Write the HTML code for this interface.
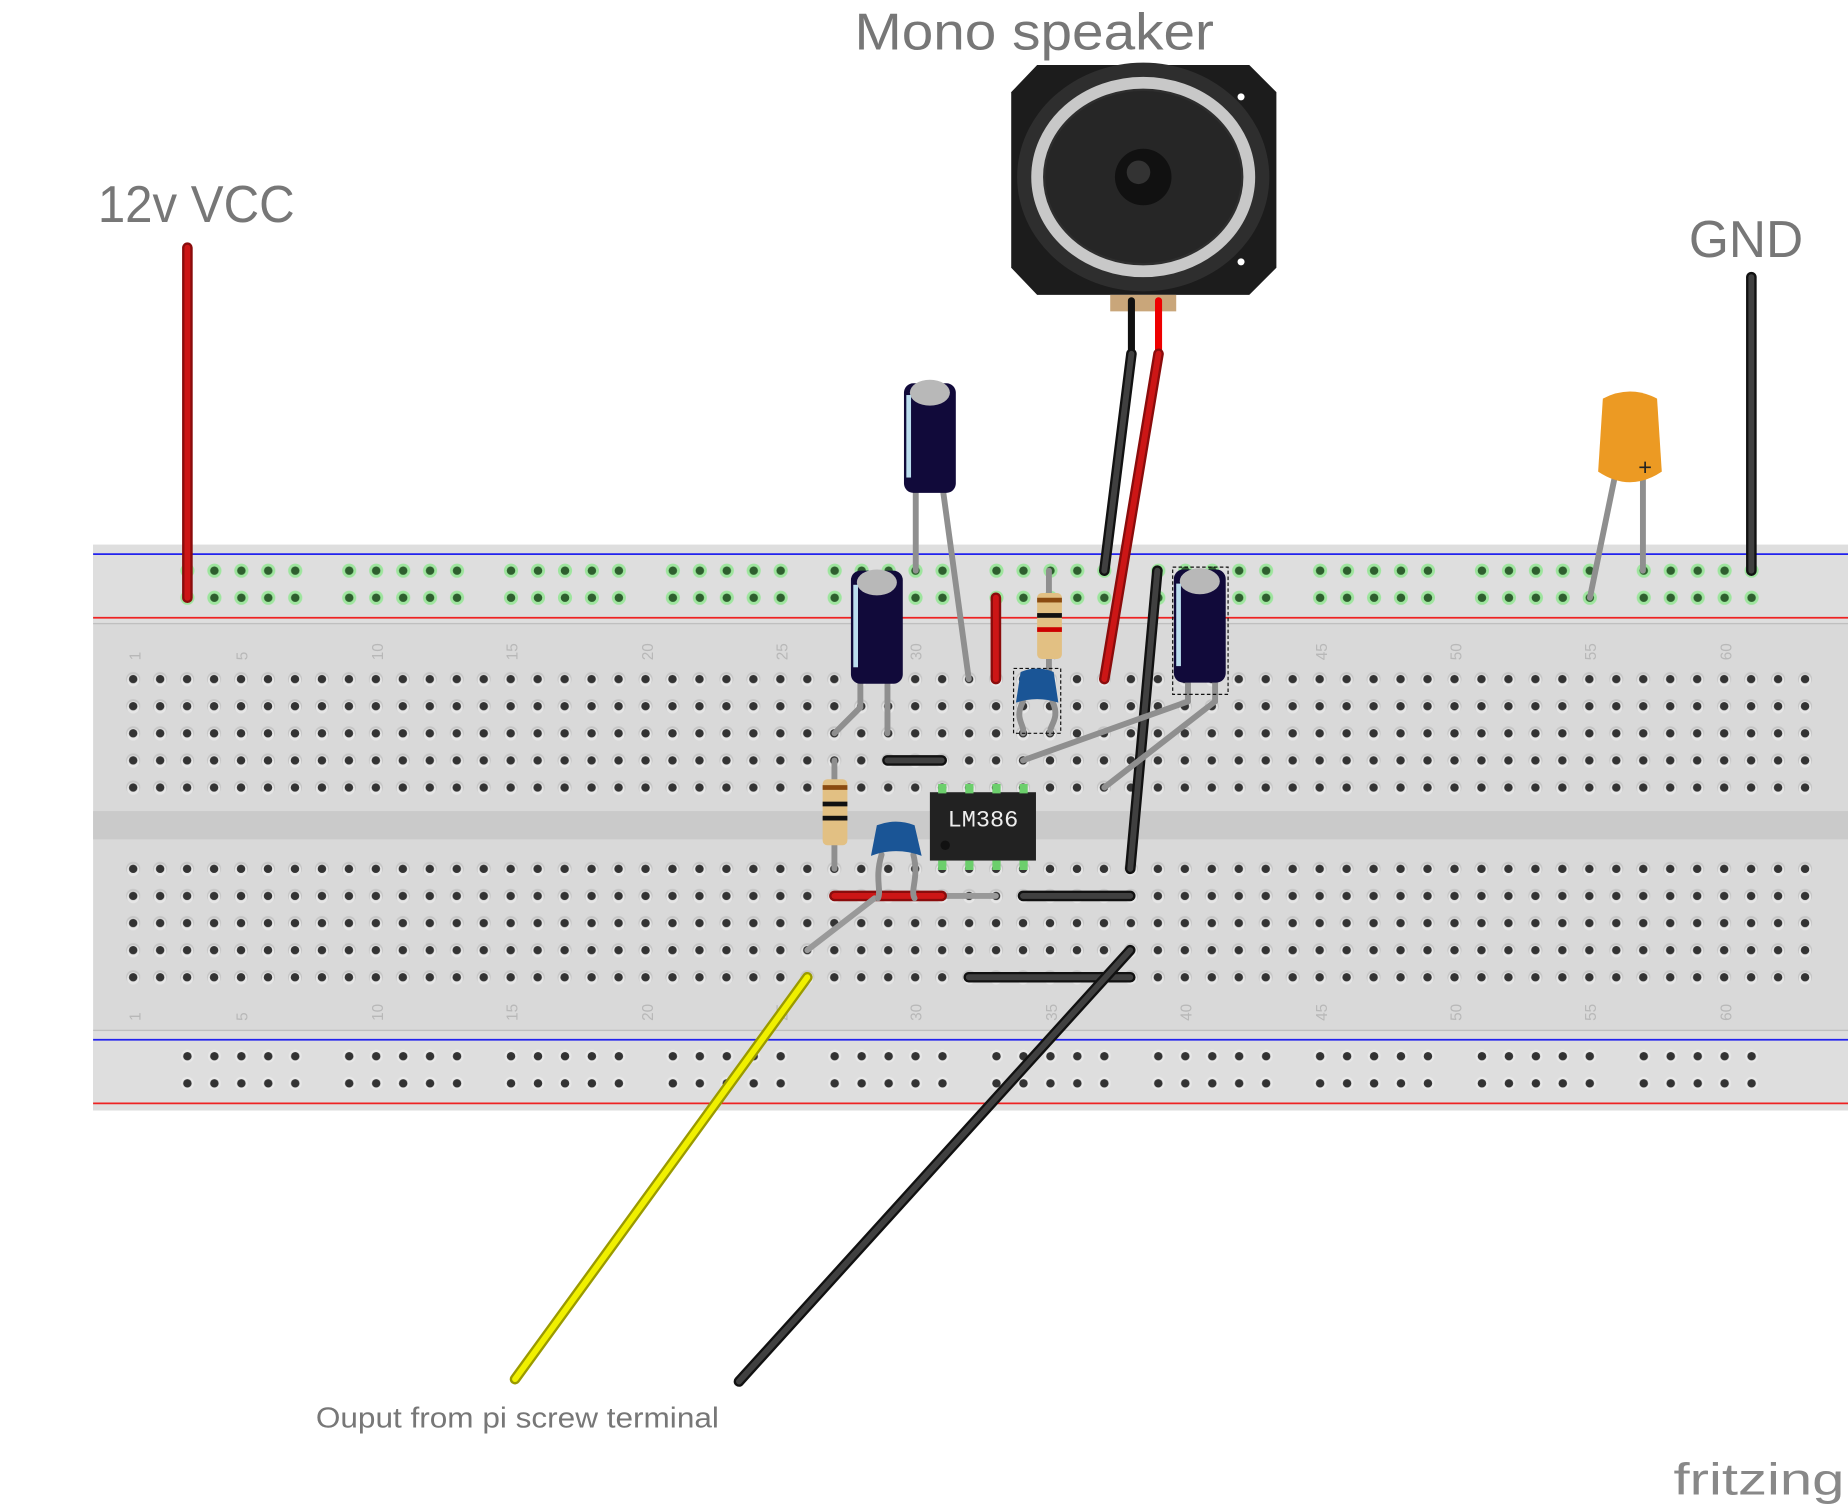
<!DOCTYPE html>
<html><head><meta charset="utf-8"><style>html,body{margin:0;padding:0;background:#fff}svg{display:block}</style></head>
<body>
<svg width="1848" height="1509" viewBox="0 0 1568 1280" xmlns="http://www.w3.org/2000/svg" font-family="Liberation Sans, DejaVu Sans, sans-serif">
<defs>
<pattern id="mh" x="101.56" y="564.5" width="22.88" height="23" patternUnits="userSpaceOnUse">
<circle cx="11.44" cy="11.5" r="6" fill="#c6c6c6"/><circle cx="11.44" cy="12.5" r="5.2" fill="#e6e6e6"/><circle cx="11.44" cy="11.5" r="3.6" fill="#333"/></pattern>
<pattern id="mh2" x="101.56" y="725.5" width="22.88" height="23" patternUnits="userSpaceOnUse">
<circle cx="11.44" cy="11.5" r="6" fill="#c6c6c6"/><circle cx="11.44" cy="12.5" r="5.2" fill="#e6e6e6"/><circle cx="11.44" cy="11.5" r="3.6" fill="#333"/></pattern>
<pattern id="rg" x="148" y="472.5" width="137.3" height="23" patternUnits="userSpaceOnUse">
<g><circle cx="11" cy="11.5" r="6" fill="#9ee59e"/><circle cx="11" cy="11.5" r="3.6" fill="#2e5e2e"/>
<circle cx="33.9" cy="11.5" r="6" fill="#9ee59e"/><circle cx="33.9" cy="11.5" r="3.6" fill="#2e5e2e"/>
<circle cx="56.8" cy="11.5" r="6" fill="#9ee59e"/><circle cx="56.8" cy="11.5" r="3.6" fill="#2e5e2e"/>
<circle cx="79.6" cy="11.5" r="6" fill="#9ee59e"/><circle cx="79.6" cy="11.5" r="3.6" fill="#2e5e2e"/>
<circle cx="102.5" cy="11.5" r="6" fill="#9ee59e"/><circle cx="102.5" cy="11.5" r="3.6" fill="#2e5e2e"/></g></pattern>
<pattern id="rb" x="148" y="884.5" width="137.3" height="23" patternUnits="userSpaceOnUse">
<g fill="#333"><circle cx="11" cy="11.5" r="5.5" fill="#e8e8e8"/><circle cx="11" cy="11.5" r="3.6"/>
<circle cx="33.9" cy="11.5" r="5.5" fill="#e8e8e8"/><circle cx="33.9" cy="11.5" r="3.6"/>
<circle cx="56.8" cy="11.5" r="5.5" fill="#e8e8e8"/><circle cx="56.8" cy="11.5" r="3.6"/>
<circle cx="79.6" cy="11.5" r="5.5" fill="#e8e8e8"/><circle cx="79.6" cy="11.5" r="3.6"/>
<circle cx="102.5" cy="11.5" r="5.5" fill="#e8e8e8"/><circle cx="102.5" cy="11.5" r="3.6"/></g></pattern>
</defs>
<rect x="79" y="462" width="1489" height="480" fill="#d9d9d9"/>
<rect x="79" y="462" width="1489" height="66" fill="#dedede"/>
<line x1="79" y1="470" x2="1568" y2="470" stroke="#2222ee" stroke-width="1.5"/>
<line x1="79" y1="524" x2="1568" y2="524" stroke="#ee2222" stroke-width="1.5"/>
<line x1="79" y1="529" x2="1568" y2="529" stroke="#bbb" stroke-width="1"/>
<rect x="79" y="688" width="1489" height="24" fill="#cacaca"/>
<rect x="79" y="875" width="1489" height="67" fill="#dedede"/>
<line x1="79" y1="874" x2="1568" y2="874" stroke="#bbb" stroke-width="1"/>
<line x1="79" y1="882" x2="1568" y2="882" stroke="#2222ee" stroke-width="1.5"/>
<line x1="79" y1="936" x2="1568" y2="936" stroke="#ee2222" stroke-width="1.5"/>
<rect x="148" y="472.5" width="1360" height="46" fill="url(#rg)"/>
<rect x="148" y="884.5" width="1360" height="46" fill="url(#rb)"/>
<rect x="101.56" y="564.5" width="1441.4" height="115" fill="url(#mh)"/>
<rect x="101.56" y="725.5" width="1441.4" height="115" fill="url(#mh2)"/>
<g fill="#b8b8b8" font-size="13">
<g transform="translate(119,560) rotate(-90)"><text>1</text></g>
<g transform="translate(210,560) rotate(-90)"><text>5</text></g>
<g transform="translate(325,560) rotate(-90)"><text>10</text></g>
<g transform="translate(439,560) rotate(-90)"><text>15</text></g>
<g transform="translate(554,560) rotate(-90)"><text>20</text></g>
<g transform="translate(668,560) rotate(-90)"><text>25</text></g>
<g transform="translate(782,560) rotate(-90)"><text>30</text></g>
<g transform="translate(897,560) rotate(-90)"><text>35</text></g>
<g transform="translate(1011,560) rotate(-90)"><text>40</text></g>
<g transform="translate(1126,560) rotate(-90)"><text>45</text></g>
<g transform="translate(1240,560) rotate(-90)"><text>50</text></g>
<g transform="translate(1354,560) rotate(-90)"><text>55</text></g>
<g transform="translate(1469,560) rotate(-90)"><text>60</text></g>
<g transform="translate(119,866) rotate(-90)"><text>1</text></g>
<g transform="translate(210,866) rotate(-90)"><text>5</text></g>
<g transform="translate(325,866) rotate(-90)"><text>10</text></g>
<g transform="translate(439,866) rotate(-90)"><text>15</text></g>
<g transform="translate(554,866) rotate(-90)"><text>20</text></g>
<g transform="translate(668,866) rotate(-90)"><text>25</text></g>
<g transform="translate(782,866) rotate(-90)"><text>30</text></g>
<g transform="translate(897,866) rotate(-90)"><text>35</text></g>
<g transform="translate(1011,866) rotate(-90)"><text>40</text></g>
<g transform="translate(1126,866) rotate(-90)"><text>45</text></g>
<g transform="translate(1240,866) rotate(-90)"><text>50</text></g>
<g transform="translate(1354,866) rotate(-90)"><text>55</text></g>
<g transform="translate(1469,866) rotate(-90)"><text>60</text></g>
</g>
<g fill="#777">
<text x="83" y="188" font-size="44" textLength="167" lengthAdjust="spacingAndGlyphs">12v VCC</text>
<text x="725" y="42" font-size="44" textLength="305" lengthAdjust="spacingAndGlyphs">Mono speaker</text>
<text x="1433" y="218" font-size="44" textLength="97" lengthAdjust="spacingAndGlyphs">GND</text>
<text x="268" y="1211" font-size="24" textLength="342" lengthAdjust="spacingAndGlyphs">Ouput from pi screw terminal</text>
<text x="1420" y="1268" font-size="38" fill="#888" textLength="145" lengthAdjust="spacingAndGlyphs">fritzing</text>
</g>
<path d="M880,55 H1060 L1083,78 V227 L1060,250 H880 L858,227 V78 Z" fill="#1c1c1c"/>
<circle cx="913" cy="82" r="3" fill="#fff"/><circle cx="1053" cy="82" r="3" fill="#fff"/>
<circle cx="913" cy="222" r="3" fill="#fff"/><circle cx="1053" cy="222" r="3" fill="#fff"/>
<ellipse cx="970" cy="150" rx="107" ry="97" fill="#2e2e2e"/>
<ellipse cx="970" cy="150" rx="90" ry="80" fill="none" stroke="#c8c8c8" stroke-width="10"/>
<ellipse cx="970" cy="150" rx="83" ry="73" fill="#262626"/>
<circle cx="970" cy="150" r="24" fill="#111"/><circle cx="966" cy="146" r="10" fill="#333"/>
<rect x="942" y="250" width="56" height="14" fill="#c9a67a"/>
<g stroke-linecap="round" fill="none">
<line x1="159" y1="210" x2="159" y2="507" stroke="#8a0c0c" stroke-width="9"/><line x1="159" y1="210" x2="159" y2="507" stroke="#cc1616" stroke-width="5"/>
<line x1="1486" y1="235" x2="1486" y2="484" stroke="#111" stroke-width="9"/><line x1="1486" y1="235" x2="1486" y2="484" stroke="#404040" stroke-width="5"/>
<line x1="960" y1="255" x2="960" y2="300" stroke="#111" stroke-width="6"/>
<line x1="983" y1="255" x2="983" y2="300" stroke="#e00" stroke-width="6"/>
<line x1="960" y1="300" x2="937" y2="484" stroke="#111" stroke-width="9"/><line x1="960" y1="300" x2="937" y2="484" stroke="#404040" stroke-width="5"/>
<line x1="983" y1="300" x2="937" y2="576" stroke="#8a0c0c" stroke-width="9"/><line x1="983" y1="300" x2="937" y2="576" stroke="#cc1616" stroke-width="5"/>
<line x1="845" y1="507" x2="845" y2="576" stroke="#8a0c0c" stroke-width="9"/><line x1="845" y1="507" x2="845" y2="576" stroke="#cc1616" stroke-width="5"/>
<line x1="982" y1="484" x2="959" y2="737" stroke="#111" stroke-width="9"/><line x1="982" y1="484" x2="959" y2="737" stroke="#404040" stroke-width="5"/>
<line x1="753" y1="645" x2="799" y2="645" stroke="#111" stroke-width="9"/><line x1="753" y1="645" x2="799" y2="645" stroke="#404040" stroke-width="5"/>
<line x1="868" y1="760" x2="959" y2="760" stroke="#111" stroke-width="9"/><line x1="868" y1="760" x2="959" y2="760" stroke="#404040" stroke-width="5"/>
<line x1="822" y1="829" x2="959" y2="829" stroke="#111" stroke-width="9"/><line x1="822" y1="829" x2="959" y2="829" stroke="#404040" stroke-width="5"/>
<line x1="799" y1="760" x2="845" y2="760" stroke="#999" stroke-width="5"/>
<line x1="708" y1="760" x2="799" y2="760" stroke="#8a0c0c" stroke-width="9"/><line x1="708" y1="760" x2="799" y2="760" stroke="#cc1616" stroke-width="5"/>
<line x1="685" y1="806" x2="742" y2="762" stroke="#999" stroke-width="5"/>
<line x1="685" y1="829" x2="437" y2="1170" stroke="#9a9a00" stroke-width="9"/><line x1="685" y1="829" x2="437" y2="1170" stroke="#f0f000" stroke-width="5"/>
<line x1="959" y1="806" x2="627" y2="1172" stroke="#111" stroke-width="9"/><line x1="959" y1="806" x2="627" y2="1172" stroke="#404040" stroke-width="5"/>
<g stroke="#8f8f8f" stroke-width="5">
<line x1="777" y1="415" x2="777" y2="484"/><line x1="800" y1="415" x2="822" y2="576"/>
<line x1="730" y1="575" x2="730" y2="600"/><line x1="730" y1="600" x2="708" y2="622"/><line x1="753" y1="575" x2="753" y2="622"/>
<line x1="1008" y1="575" x2="1008" y2="595"/><line x1="1008" y1="595" x2="868" y2="645"/>
<line x1="1031" y1="575" x2="1031" y2="595"/><line x1="1031" y1="595" x2="937" y2="668"/>
<line x1="1370" y1="405" x2="1349" y2="507"/><line x1="1394" y1="405" x2="1394" y2="484"/>
<line x1="708" y1="645" x2="708" y2="737"/>
<line x1="890" y1="484" x2="890" y2="576"/>
<path d="M748,725 C742,745 748,755 745,762"/><path d="M775,725 C780,745 772,755 776,762"/>
<path d="M868,595 C860,610 870,615 868,622"/><path d="M893,595 C900,610 890,615 891,622"/>
</g>
</g>
<g>
<rect x="767" y="325" width="44" height="93" rx="8" fill="#110a3a"/><ellipse cx="789" cy="333" rx="17" ry="11" fill="#b8b8b8"/><rect x="769" y="335" width="4" height="70" fill="#bde"/>
<rect x="722" y="484" width="44" height="96" rx="8" fill="#110a3a"/><ellipse cx="744" cy="494" rx="17" ry="11" fill="#b8b8b8"/><rect x="724" y="496" width="4" height="70" fill="#bde"/>
<rect x="996" y="483" width="44" height="96" rx="8" fill="#110a3a"/><ellipse cx="1018" cy="493" rx="17" ry="11" fill="#b8b8b8"/><rect x="998" y="495" width="4" height="70" fill="#bde"/>
<rect x="995" y="481" width="47" height="108" fill="none" stroke="#111" stroke-dasharray="3,2"/>
<path d="M1360,338 Q1383,326 1406,338 L1410,400 Q1383,418 1356,400 Z" fill="#ec9a23"/>
<text x="1390" y="403" font-size="20" fill="#222">+</text>
<rect x="860" y="567" width="40" height="55" fill="none" stroke="#111" stroke-dasharray="3,2"/>
<path d="M866,570 Q880,564 894,570 L898,596 Q880,590 862,596 Z" fill="#1a5596"/>
<path d="M744,700 Q760,694 776,700 L782,726 Q760,718 739,726 Z" fill="#1a5596"/>
<rect x="880" y="503" width="21" height="56" rx="4" fill="#e2c083"/>
<rect x="880" y="507" width="21" height="4" fill="#8a4a10"/><rect x="880" y="520" width="21" height="4" fill="#111"/><rect x="880" y="532" width="21" height="4" fill="#c00"/>
<rect x="698" y="661" width="21" height="56" rx="4" fill="#e2c083"/>
<rect x="698" y="666" width="21" height="4" fill="#8a4a10"/><rect x="698" y="680" width="21" height="4" fill="#111"/><rect x="698" y="692" width="21" height="4" fill="#111"/>
<rect x="789" y="672" width="90" height="58" fill="#222"/>
<g fill="#6ccf6c"><rect x="796" y="665" width="7" height="8"/><rect x="819" y="665" width="7" height="8"/><rect x="842" y="665" width="7" height="8"/><rect x="865" y="665" width="7" height="8"/>
<rect x="796" y="730" width="7" height="8"/><rect x="819" y="730" width="7" height="8"/><rect x="842" y="730" width="7" height="8"/><rect x="865" y="730" width="7" height="8"/></g>
<circle cx="802" cy="717" r="4" fill="#111"/>
<text x="804" y="701" font-size="20" fill="#eee" font-family="Liberation Mono, monospace">LM386</text>
</g>
</svg>
</body></html>
